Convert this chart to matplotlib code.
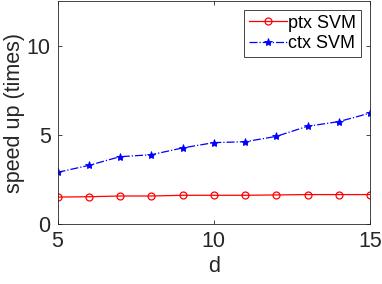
import matplotlib
matplotlib.use("Agg")
import matplotlib.pyplot as plt

plt.rcParams['font.family'] = ['Liberation Sans', 'DejaVu Sans']

d = [5, 6, 7, 8, 9, 10, 11, 12, 13, 14, 15]
ptx_svm = [1.53, 1.55, 1.59, 1.59, 1.63, 1.63, 1.63, 1.65, 1.67, 1.67, 1.67]
ctx_svm = [2.92, 3.31, 3.80, 3.91, 4.29, 4.59, 4.64, 4.94, 5.51, 5.77, 6.25]

fig = plt.figure(figsize=(3.82, 2.84), dpi=100)
ax = fig.add_axes([57.5 / 382, 1 - 224.3 / 284, (370 - 57.5) / 382, 223.3 / 284])

ax.plot(d, ptx_svm, color='red', linestyle='-', linewidth=0.9, marker='o',
        markersize=5, markerfacecolor='none', markeredgewidth=0.9, label='ptx SVM')
ax.plot(d, ctx_svm, color='blue', linestyle='-.', linewidth=0.9, marker='*',
        markersize=6, markerfacecolor='blue', markeredgewidth=0.6, label='ctx SVM')

ax.set_xlim(5, 15)
ax.set_ylim(0, 12.55)
ax.set_xticks([5, 10, 15])
ax.set_yticks([0, 5, 10])
ax.tick_params(direction='in', top=True, right=True, labelsize=15.5,
               colors='#262626', length=3, width=0.6, pad=5)
for s in ax.spines.values():
    s.set_color('#262626')
    s.set_linewidth(0.6)

ax.set_xlabel('d', fontsize=15.5, color='#262626', labelpad=3)
ax.set_ylabel('speed up (times)', fontsize=15.5, color='#262626', labelpad=1)

leg = ax.legend(loc='upper right', fontsize=13, fancybox=False, framealpha=1,
                edgecolor='#262626', handlelength=2.1, borderpad=0.25,
                labelspacing=0.2, handletextpad=0.1, borderaxespad=0.5)
leg.get_frame().set_linewidth(0.6)

fig.savefig('out.png', dpi=100)
